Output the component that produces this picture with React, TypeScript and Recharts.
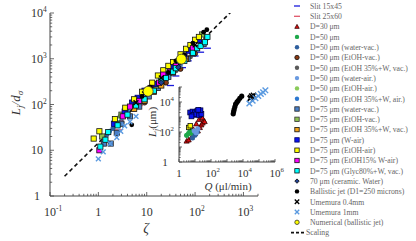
import React from "react"
import { ScatterChart, Scatter, XAxis, YAxis } from "recharts"

type Pt = [number, number]

// main plot : zeta vs Lj/d_sigma
const slit15x45: Pt[] = [[31, 260], [40, 420], [55, 640], [72, 900], [100, 1150], [130, 1390], [180, 1700]]
const slit25x60: Pt[] = [[2.6, 28], [3.8, 55], [7, 95]]
const d30: Pt[] = [[3, 45], [8, 130]]
const d50: Pt[] = [[2.5, 40], [6, 90], [12, 180], [30, 460]]
const d50WaterVac: Pt[] = [[1.5, 22], [2, 30], [4, 65], [8, 120], [20, 330], [40, 650]]
const d50EtohVac: Pt[] = [[9, 110], [25, 300], [50, 600], [100, 1300], [170, 2800]]
const d50Etoh35Vac: Pt[] = [[15, 220], [40, 550], [80, 1100], [160, 2200]]
const d50WaterAir: Pt[] = [[3, 50], [7, 110], [18, 270], [50, 720]]
const d50EtohAir: Pt[] = [[2.8, 55], [5, 100], [24, 420], [110, 2500]]
const d50Etoh35Air: Pt[] = [[1.7, 26], [4, 70], [10, 160], [30, 520]]
const d75WaterVac: Pt[] = [[1.3, 14], [1.8, 14], [2.4, 24], [3, 38], [4.5, 55], [7, 90], [11, 150], [17, 230], [28, 400], [45, 700], [70, 1000], [90, 1300], [110, 1700], [150, 2100]]
const d75EtohVac: Pt[] = [[1.2, 20], [3, 60], [6, 120], [10, 200], [16, 260], [35, 700], [60, 1200], [140, 3400]]
const d75Etoh35Vac: Pt[] = [[5.5, 80], [9, 120], [14, 190], [20, 260], [35, 500], [65, 1000]]
const d75WAir: Pt[] = [[2.1, 38], [3.5, 70], [5, 110], [6.5, 140], [9, 200], [15, 280], [25, 450], [35, 650], [45, 850], [60, 1100], [75, 1500], [120, 2600]]
const d75EtohAir: Pt[] = [[0.8, 18], [1.05, 26], [2.2, 48], [3.6, 85], [5.5, 130], [8, 190], [13, 300], [17, 430], [22, 560], [28, 700], [35, 850], [50, 1250], [65, 1650], [80, 2000], [100, 2600], [120, 3000]]
const d75Etoh15WAir: Pt[] = [[1.05, 10], [3.2, 55], [4.5, 90], [7, 120], [12, 230], [18, 300], [22, 450], [30, 520], [40, 700], [55, 950], [90, 1700]]
const d75Glyc: Pt[] = [[1.1, 12], [1.4, 17], [1.6, 25], [2.5, 35], [4, 60], [6, 95], [9, 130], [14, 200], [20, 330], [25, 380], [35, 520], [40, 620], [60, 900], [90, 1350], [110, 1700], [130, 1900], [160, 2300], [180, 3000]]
const ceramic70: Pt[] = [[20, 300], [45, 650]]
const ballistic: Pt[] = [[4.9, 36], [8, 150], [12, 240], [28, 500], [40, 900], [60, 1200], [90, 2200], [150, 3800], [175, 4300]]
const umemura04: Pt[] = [[6, 110], [9, 170], [20, 380], [45, 900], [100, 2000]]
const umemura1: Pt[] = [[1, 6.5], [1.26, 9.2], [1.75, 14], [2.4, 19], [2.9, 26], [3.5, 34], [4.5, 42], [6, 55]]
const numerical: Pt[] = [[10.7, 194], [52, 980]]
const scaling: Pt[] = [[0.2, 2.7], [550, 10500]]

// inset : Q (ul/min) vs Lj (um)
const inD75WAir: Pt[] = [[5, 2000], [7, 2300], [10, 2000], [14, 2500], [20, 2100], [8, 1400], [12, 1500], [18, 1300], [25, 1600], [6, 1100], [22, 2800], [16, 3000]]
const inD30: Pt[] = [[3, 25], [4, 30], [6, 45], [10, 80], [15, 120], [20, 200], [25, 300], [30, 400], [35, 600], [40, 500], [12, 350], [8, 150], [18, 700], [28, 900]]
const inD50: Pt[] = [[3, 60], [4, 80], [6, 100], [8, 70], [5, 130]]
const inD50WaterAir: Pt[] = [[9, 120], [12, 90], [15, 160]]
const inD50WaterVac: Pt[] = [[10, 60], [14, 100], [7, 40]]
const inD75EtohAir: Pt[] = [[4, 200], [5, 260]]
const inBallisticQ = [2450, 2600, 2800, 3100, 3450, 4200, 5000, 6300, 8300]
const inBallisticL = [1620, 2300, 3200, 4800, 7200, 9800, 12600, 17800, 24500]
const inUmemura04: Pt[] = [[30000, 20000], [35000, 25000], [40000, 22000], [45000, 28000], [28000, 17000]]
const inUmemura1: Pt[] = [[25000, 8000], [40000, 12000], [60000, 18000], [90000, 25000], [130000, 35000], [180000, 45000], [250000, 60000]]

const toPts = (a: Pt[]) => a.map(([x, y]) => ({ x, y }))

const SERIF = "Liberation Serif, Times New Roman, serif"
const AX = "#444"

const Marker = (p: any) => {
  const { cx, cy, kind, fill, stroke, s } = p
  if (cx == null || cy == null) return <g />
  const st = stroke || "none"
  switch (kind) {
    case "square":
      return <rect x={cx - s} y={cy - s} width={2 * s} height={2 * s} fill={fill} stroke={st} strokeWidth={0.8} />
    case "circle":
      return <circle cx={cx} cy={cy} r={s} fill={fill} stroke={st} strokeWidth={0.8} />
    case "tri":
      return <polygon points={`${cx},${cy - s} ${cx + s},${cy + s * 0.8} ${cx - s},${cy + s * 0.8}`} fill={fill} stroke={st} strokeWidth={0.8} />
    case "diamond":
      return <polygon points={`${cx},${cy - s} ${cx + s},${cy} ${cx},${cy + s} ${cx - s},${cy}`} fill={fill} stroke={st} strokeWidth={0.8} />
    case "x":
      return (
        <g stroke={fill} strokeWidth={1.4}>
          <line x1={cx - s} y1={cy - s} x2={cx + s} y2={cy + s} />
          <line x1={cx - s} y1={cy + s} x2={cx + s} y2={cy - s} />
        </g>
      )
    case "dash":
      return <line x1={cx - s} x2={cx + s} y1={cy} y2={cy} stroke={fill} strokeWidth={1.3} />
    default:
      return <g />
  }
}

const mainSeries = [
  { name: "Slit 15x45", data: slit15x45, kind: "dash", fill: "#1a1adb", s: 3.5 },
  { name: "Slit 25x60", data: slit25x60, kind: "dash", fill: "#e0566a", s: 3.5 },
  { name: "D=30 μm", data: d30, kind: "tri", fill: "#e01010", stroke: "#300", s: 2.6 },
  { name: "D=50 μm", data: d50, kind: "circle", fill: "#1ea84a", s: 2.5 },
  { name: "D=50 μm (water-vac.)", data: d50WaterVac, kind: "circle", fill: "#2f5f9e", s: 2.5 },
  { name: "D=50 μm (EtOH-vac.)", data: d50EtohVac, kind: "circle", fill: "#8b3a12", stroke: "#111", s: 2.5 },
  { name: "D=50 μm (EtOH 35%+W, vac.)", data: d50Etoh35Vac, kind: "circle", fill: "#5a5a5a", s: 2.5 },
  { name: "D=50 μm (water-air.)", data: d50WaterAir, kind: "circle", fill: "#6a9ae0", s: 2.5 },
  { name: "D=50 μm (EtOH-air.)", data: d50EtohAir, kind: "circle", fill: "#8acb5a", s: 2.5 },
  { name: "D=50 μm (EtOH 35%+W, air.)", data: d50Etoh35Air, kind: "circle", fill: "#2d78d0", s: 2.5 },
  { name: "D=75 μm (water-vac.)", data: d75WaterVac, kind: "square", fill: "#4a80c8", stroke: "#222", s: 2.6 },
  { name: "D=75 μm (EtOH-vac.)", data: d75EtohVac, kind: "square", fill: "#8cc152", stroke: "#333", s: 2.6 },
  { name: "D=75 μm (EtOH 35%+W, vac.)", data: d75Etoh35Vac, kind: "square", fill: "#f2a31b", stroke: "#111", s: 2.6 },
  { name: "D=75 μm (W-air)", data: d75WAir, kind: "square", fill: "#0a14f0", stroke: "#000060", s: 2.6 },
  { name: "D=75 μm (EtOH-air)", data: d75EtohAir, kind: "square", fill: "#ffff00", stroke: "#111", s: 2.6 },
  { name: "D=75 μm (EtOH15% W-air)", data: d75Etoh15WAir, kind: "square", fill: "#ff00ff", stroke: "#111", s: 2.6 },
  { name: "D=75 μm (Glyc80%+W, vac.)", data: d75Glyc, kind: "square", fill: "#00ffff", stroke: "#111", s: 2.6 },
  { name: "70 μm (ceramic. Water)", data: ceramic70, kind: "diamond", fill: "#1f3f8f", stroke: "#000", s: 2.8 },
  { name: "Ballistic jet (D1=250 microns)", data: ballistic, kind: "circle", fill: "#000", s: 2.4 },
  { name: "Umemura 0.4mm", data: umemura04, kind: "x", fill: "#000", s: 2.4 },
  { name: "Umemura 1mm", data: umemura1, kind: "x", fill: "#5b9ae0", s: 2.4 },
  { name: "Numerical (ballistic jet)", data: numerical, kind: "circle", fill: "#ffff00", stroke: "#333", s: 5 },
]

const insetSeries = [
  { data: inD30, kind: "tri", fill: "#e01010", stroke: "#300", s: 2.6 },
  { data: inD50, kind: "circle", fill: "#1ea84a", s: 2.6 },
  { data: inD50WaterVac, kind: "circle", fill: "#2f5f9e", s: 2.5 },
  { data: inD50WaterAir, kind: "circle", fill: "#6a9ae0", s: 2.6 },
  { data: inD75WAir, kind: "square", fill: "#0a14f0", stroke: "#000040", s: 2.4 },
  { data: inD75EtohAir, kind: "square", fill: "#ffff00", stroke: "#111", s: 2.2 },
  { data: inBallisticQ.map((q, i) => [q, inBallisticL[i]] as Pt), kind: "circle", fill: "#000", s: 2.6 },
  { data: inUmemura04, kind: "x", fill: "#000", s: 2.6 },
  { data: inUmemura1, kind: "x", fill: "#5b9ae0", s: 2.8 },
]

const logTicks = (lo: number, hi: number, extra: number[] = []) => {
  const out: number[] = []
  for (let e = lo; e < hi; e++) for (let m = 1; m < 10; m++) out.push(m * Math.pow(10, e))
  out.push(Math.pow(10, hi))
  return out.concat(extra)
}

const LogTick = (props: any) => {
  const { x, y, payload, axis, fs, len, off } = props
  const v = payload.value
  const lg = Math.log10(v)
  const e = Math.round(lg)
  const major = Math.abs(lg - e) < 1e-6
  const l = major ? len : len * 0.55
  const base = e === 0 ? "1" : "10"
  const sup = e === 0 || e === 1 ? null : String(e)
  const bw = base.length * fs * 0.5
  const lbl = (tx: number, ty: number) => (
    <text x={tx - bw / 2} y={ty} fontSize={fs} fontFamily={SERIF} fill="#333">
      {base}
      {sup && (
        <tspan dy={-fs * 0.42} fontSize={fs * 0.62}>
          {sup}
        </tspan>
      )}
    </text>
  )
  const showLabel = major && (props.show ? props.show.includes(e) : true)
  if (axis === "x") {
    return (
      <g>
        <line x1={x} x2={x} y1={y} y2={y - l} stroke={AX} strokeWidth={0.8} />
        {showLabel && lbl(x, y + off)}
      </g>
    )
  }
  return (
    <g>
      <line x1={x} x2={x + l} y1={y} y2={y} stroke={AX} strokeWidth={0.8} />
      {showLabel && lbl(x - off, y + fs * 0.35)}
    </g>
  )
}

const mainXTicks = logTicks(-1, 3, [2000])
const mainYTicks = logTicks(0, 4)
const insetXTicks = logTicks(0, 6)
const insetYTicks = logTicks(0, 5)

const legendNames = mainSeries.map((s) => s.name)

export default function App() {
  return (
    <div style={{ position: "absolute", left: 0, top: 0, width: 416, height: 241, background: "#fff" }}>
      <div style={{ position: "absolute", left: 0, top: 0 }}>
        <ScatterChart width={416} height={241} margin={{ top: 13, right: 158, bottom: 0, left: 0 }}>
          <XAxis
            type="number"
            dataKey="x"
            scale="log"
            domain={[0.1, 2000]}
            allowDataOverflow
            ticks={mainXTicks}
            interval={0}
            height={45}
            tickSize={0}
            tickMargin={0}
            tickLine={false}
            axisLine={{ stroke: AX }}
            tick={(p: any) => <LogTick {...p} axis="x" fs={12} len={4} off={20} />}
          />
          <YAxis
            type="number"
            dataKey="y"
            scale="log"
            domain={[1, 10000]}
            allowDataOverflow
            ticks={mainYTicks}
            interval={0}
            width={50}
            tickSize={0}
            tickMargin={0}
            tickLine={false}
            axisLine={{ stroke: AX }}
            tick={(p: any) => <LogTick {...p} axis="y" fs={12} len={4} off={13} />}
          />
          <Scatter
            data={toPts(scaling)}
            line={{ stroke: "#111", strokeWidth: 1.6, strokeDasharray: "4 3" }}
            shape={() => <g />}
            isAnimationActive={false}
          />
          {mainSeries.map((s) => (
            <Scatter
              key={s.name}
              data={toPts(s.data)}
              shape={(p: any) => <Marker {...p} kind={s.kind} fill={s.fill} stroke={s.stroke} s={s.s} />}
              isAnimationActive={false}
            />
          ))}
        </ScatterChart>
      </div>
      <div style={{ position: "absolute", left: 140, top: 80 }}>
        <ScatterChart width={145} height={112} margin={{ top: 7, right: 10, bottom: 0, left: 0 }}>
          <XAxis
            type="number"
            dataKey="x"
            scale="log"
            domain={[1, 1000000]}
            allowDataOverflow
            ticks={insetXTicks}
            interval={0}
            height={30}
            tickSize={0}
            tickMargin={0}
            tickLine={false}
            axisLine={{ stroke: AX }}
            tick={(p: any) => <LogTick {...p} axis="x" fs={11} len={3} off={15} show={[0, 2, 4, 6]} />}
          />
          <YAxis
            type="number"
            dataKey="y"
            scale="log"
            domain={[1, 100000]}
            allowDataOverflow
            ticks={insetYTicks}
            interval={0}
            width={39}
            tickSize={0}
            tickMargin={0}
            tickLine={false}
            axisLine={{ stroke: AX }}
            tick={(p: any) => <LogTick {...p} axis="y" fs={11} len={3} off={14} show={[0, 2, 4]} />}
          />
          {insetSeries.map((s, i) => (
            <Scatter
              key={i}
              data={toPts(s.data)}
              shape={(p: any) => <Marker {...p} kind={s.kind} fill={s.fill} stroke={s.stroke} s={s.s} />}
              isAnimationActive={false}
            />
          ))}
        </ScatterChart>
      </div>
      <svg width={416} height={241} style={{ position: "absolute", left: 0, top: 0, pointerEvents: "none" }}>
        <text x={146} y={233} textAnchor="middle" fontFamily={SERIF} fontStyle="italic" fontSize={14} fill="#333">
          ζ
        </text>
        <text transform="translate(20,103) rotate(-90)" textAnchor="middle" fontFamily={SERIF} fontStyle="italic" fontSize={13} fill="#333">
          L<tspan fontSize={9} dy={3}>j</tspan>
          <tspan dy={-3}>/d</tspan>
          <tspan fontSize={9} dy={3}>σ</tspan>
        </text>
        <text x={228} y={190} textAnchor="middle" fontFamily={SERIF} fontSize={11} fill="#333">
          <tspan fontStyle="italic">Q</tspan> (μl/min)
        </text>
        <text transform="translate(156,122) rotate(-90)" textAnchor="middle" fontFamily={SERIF} fontSize={11} fill="#333">
          <tspan fontStyle="italic">L</tspan>
          <tspan fontSize={8} dy={3} fontStyle="italic">j</tspan>
          <tspan dy={-3}>(μm)</tspan>
        </text>
        {legendNames.map((n, i) => {
          const s = mainSeries[i]
          const y = 6 + i * 10.3
          const ls = s.kind === "dash" ? 3 : 2.2
          return (
            <g key={n}>
              <Marker cx={297} cy={y} kind={s.kind} fill={s.fill} stroke={s.stroke} s={ls} />
              <text x={310} y={y + 2.8} fontFamily={SERIF} fontSize={7.7} fill="#666">
                {n}
              </text>
            </g>
          )
        })}
        <line x1={291} x2={305} y1={6 + 22 * 10.3} y2={6 + 22 * 10.3} stroke="#111" strokeWidth={1.6} strokeDasharray="3 2" />
        <text x={306} y={6 + 22 * 10.3 + 2.8} fontFamily={SERIF} fontSize={7.7} fill="#666">
          Scaling
        </text>
      </svg>
    </div>
  )
}
